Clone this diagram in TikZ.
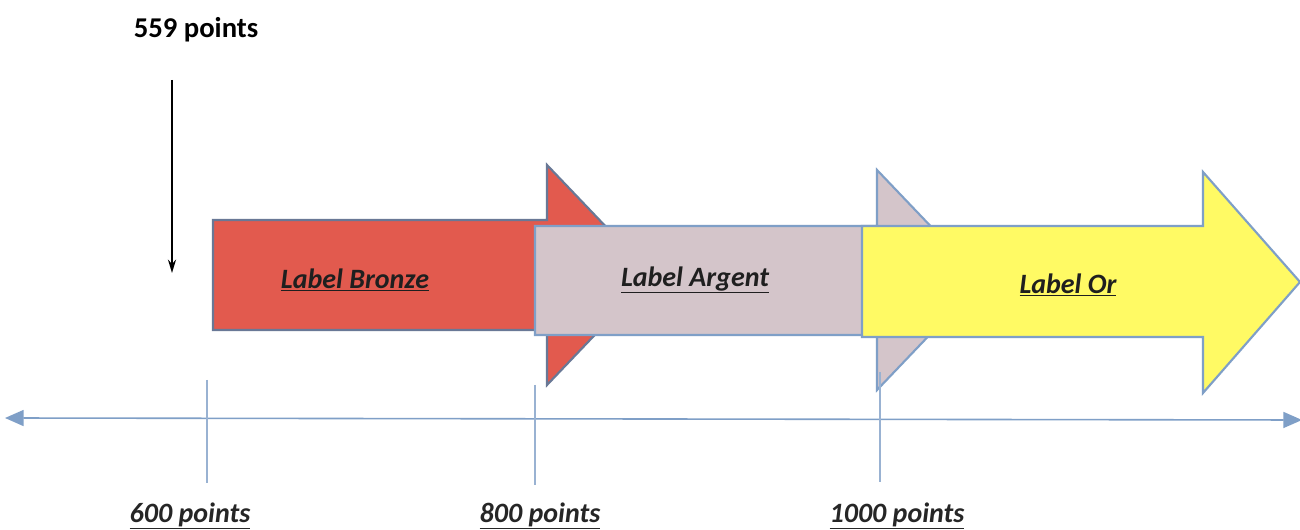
\documentclass[tikz,border=0pt]{standalone}
\usepackage{fontspec}
\setmainfont{Carlito}
\usetikzlibrary{arrows.meta}
\definecolor{bronzefill}{RGB}{226,90,78}
\definecolor{argentfill}{RGB}{212,197,202}
\definecolor{orfill}{RGB}{255,250,100}
\definecolor{edgeblue}{RGB}{127,159,199}
\definecolor{edgeslate}{RGB}{105,120,150}
\tikzset{
  blockarrow/.style={draw=edgeblue, line width=1.6pt, line join=miter},
  lbl/.style={font=\fontsize{21pt}{24pt}\selectfont\bfseries\itshape, text=black!88, inner sep=0pt},
  ticklbl/.style={font=\fontsize{21pt}{24pt}\selectfont\bfseries\itshape, text=black!85, inner sep=0pt},
  tickline/.style={draw=edgeblue!80, line width=0.9pt},
}
\begin{document}
\begin{tikzpicture}[x=0.75pt,y=-0.75pt]
\useasboundingbox[fill=white] (0,0) rectangle (1300,530);

% top label and down arrow
\node[font=\fontsize{21.5pt}{24pt}\selectfont\bfseries, inner sep=0pt] (top) at (196,30) {559 points};
\coordinate (dstart) at (172,80);
\coordinate (dend) at (172,273);
\draw[line width=1.6pt, -{Stealth[length=10pt,width=6pt]}] (dstart) -- (dend);

% Bronze arrow
\draw[blockarrow, draw=edgeslate, fill=bronzefill]
  (213,220) -- (547,220) -- (547,165) -- (652,275) -- (547,385) -- (547,330) -- (213,330) -- cycle;
% Argent arrow
\draw[blockarrow, fill=argentfill]
  (535,226) -- (877,226) -- (877,170) -- (982,280) -- (877,390) -- (877,335) -- (535,335) -- cycle;
% Or arrow
\draw[blockarrow, fill=orfill]
  (862,226) -- (1203,226) -- (1203,172) -- (1300,282) -- (1203,393) -- (1203,337) -- (862,337) -- cycle;

\node[lbl] (bronze) at (355,280) {\underline{Label Bronze}};
\node[lbl] (argent) at (695,280) {\underline{Label Argent}};
\node[lbl] (or) at (1068,285) {\underline{Label Or}};

% axis
\coordinate (axl) at (5,418);
\coordinate (axr) at (1302,420);
\draw[draw=edgeblue, line width=1.2pt, {Triangle[length=14pt,width=12pt]}-{Triangle[length=14pt,width=12pt]}] (axl) -- (axr);

% ticks
\coordinate (t1a) at (207,380); \coordinate (t1b) at (207,483);
\coordinate (t2a) at (535,385); \coordinate (t2b) at (535,485);
\coordinate (t3a) at (880,372); \coordinate (t3b) at (880,482);
\draw[tickline] (t1a) -- (t1b);
\draw[tickline] (t2a) -- (t2b);
\draw[tickline] (t3a) -- (t3b);

\node[ticklbl] (p600) at (190,516) {\underline{600 points}};
\node[ticklbl] (p800) at (540,516) {\underline{800 points}};
\node[ticklbl] (p1000) at (897,516) {\underline{1000 points}};
\end{tikzpicture}
\end{document}
